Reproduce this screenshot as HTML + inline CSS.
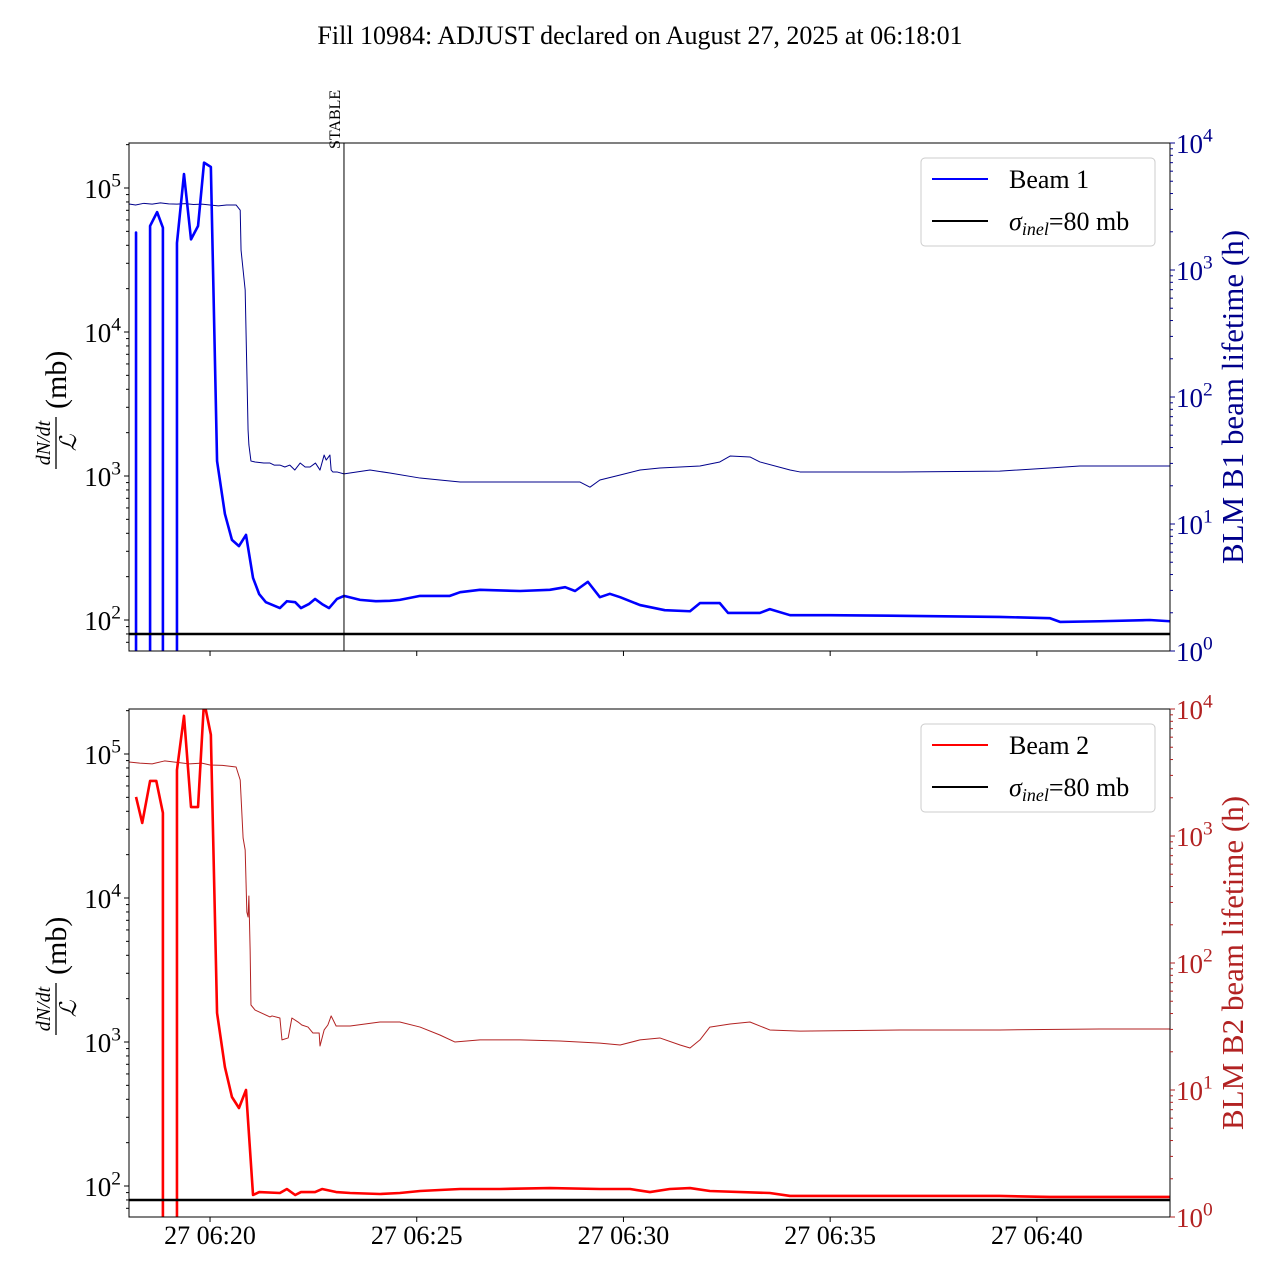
<!DOCTYPE html>
<html><head><meta charset="utf-8">
<style>
html,body{margin:0;padding:0;background:#fff;overflow:hidden;width:1280px;height:1280px;}
svg{display:block;font-family:"Liberation Serif","DejaVu Serif",serif;}
</style></head>
<body>
<svg id="fig" width="1280" height="1280" viewBox="0 0 1280 1280" xmlns="http://www.w3.org/2000/svg">
<text x="640" y="44" text-anchor="middle" font-size="26">Fill 10984: ADJUST declared on August 27, 2025 at 06:18:01</text>
</svg>
<script>
// time in minutes relative to 06:20:00
const xDomain = [-1.96, 23.22];
const xTicks = [0, 5, 10, 15, 20];
const xTickLabels = ["27 06:20", "27 06:25", "27 06:30", "27 06:35", "27 06:40"];
const leftTicks = [2, 3, 4, 5];
const rightTicks = [0, 1, 2, 3, 4];
const stableTime = 3.24;
const sigmaInel = 80;

const b1Time = [-1.96,-1.79,-1.62,-1.45,-1.28,-1.14,-0.97,-0.80,-0.63,-0.46,-0.29,-0.145,0.02,0.17,0.36,0.53,0.70,0.87,1.04,1.19,1.35,1.69,1.86,2.06,2.20,2.39,2.54,2.71,2.88,3.07,3.24,3.63,4.01,4.35,4.59,5.08,5.80,6.05,6.53,7.50,8.22,8.59,8.83,9.14,9.43,9.67,9.92,10.40,11.00,11.61,11.85,12.33,12.53,13.30,13.54,14.03,14.99,16.69,19.10,20.31,20.56,21.52,22.73,23.22];
const b1Value = [0,49000,0,54500,68000,53000,0,41500,125000,44000,54500,150000,140000,1270,545,360,326,390,196,151,133,121,135,133,121,129,140,129,121,140,147,138,135,136,138,147,147,156,162,159,162,169,159,184,144,152,144,127,117,115,131,131,112,112,119,108,108,107,105,103,97,98,100,98];

const blm1Time = [-1.96,-1.8,-1.6,-1.4,-1.2,-1.0,-0.8,-0.6,-0.4,-0.2,0,0.2,0.4,0.63,0.73,0.75,0.85,0.92,0.94,0.99,1.09,1.30,1.45,1.55,1.69,1.81,1.93,2.05,2.18,2.30,2.42,2.55,2.66,2.76,2.81,2.90,2.93,2.97,3.07,3.24,3.87,4.35,5.08,5.56,6.05,7.01,7.98,8.46,8.95,9.19,9.43,9.92,10.40,10.88,11.37,11.85,12.33,12.58,13.06,13.30,14.03,14.27,14.99,16.69,19.10,20.31,21.04,23.22];
const blm1Value = [3311,3250,3350,3300,3380,3320,3300,3330,3280,3300,3250,3200,3250,3250,2960,1436,696,55,42,31.3,30.8,30.2,30.2,29.1,29.1,28.1,29.1,26.6,30.2,28.1,28.1,30.2,26.6,34.9,31.9,34.9,26.6,25.7,25.7,24.8,26.6,25.2,23.0,22.2,21.4,21.4,21.4,21.4,21.4,19.5,22.2,24.3,26.6,27.6,28.1,28.6,30.8,34.3,33.7,30.8,26.6,25.7,25.7,25.7,26.1,27.6,28.6,28.6];

const b2Time = [-1.79,-1.64,-1.45,-1.30,-1.14,-0.97,-0.80,-0.63,-0.46,-0.29,-0.145,0.02,0.17,0.36,0.53,0.70,0.87,1.04,1.19,1.69,1.86,2.06,2.20,2.54,2.71,3.05,3.39,4.11,4.59,5.08,5.56,6.05,7.01,8.22,9.43,10.16,10.64,11.12,11.61,12.09,13.54,14.03,14.99,16.69,19.10,20.31,23.22];
const b2Value = [50300,33200,65000,65000,39000,0,77400,184000,42800,42800,233000,136000,1590,670,415,348,464,86.6,90.8,89.4,95.3,86.6,90.8,90.8,95.3,90.8,89.4,88,89.4,92.3,93.8,95.3,95.3,96.8,95.3,95.3,90.8,95.3,96.8,92.3,89.4,85.3,85.3,85.3,85.3,83.9,83.9];

const blm2Time = [-1.96,-1.7,-1.4,-1.1,-0.8,-0.5,-0.2,0,0.3,0.63,0.73,0.80,0.85,0.89,0.92,0.94,0.97,0.99,1.09,1.45,1.50,1.69,1.74,1.89,1.98,2.13,2.22,2.37,2.49,2.64,2.66,2.76,2.85,2.93,3.05,3.39,4.11,4.59,5.08,5.56,5.92,6.53,7.50,8.46,9.43,9.92,10.40,10.88,11.37,11.61,11.85,12.09,12.58,13.06,13.54,14.27,16.69,19.10,21.52,23.22];
const blm2Value = [3828,3750,3700,3900,3800,3700,3750,3620,3600,3494,2761,964,776,252,230,337,127,46.7,42.6,37.6,38.3,36.9,24.8,25.7,36.9,34.3,32.5,31.3,28.1,28.1,22.2,29.7,32.5,38.3,31.9,31.9,34.3,34.3,31.3,27.1,23.9,24.8,24.8,24.3,23.4,22.6,24.8,25.7,22.6,21.4,24.8,31.3,33.1,34.3,29.7,29.1,29.7,29.7,30.2,30.2];

const NS = "http://www.w3.org/2000/svg";
const svg = document.getElementById('fig');
const X0 = 129, X1 = 1170;
function xs(t){ return X0 + (t - xDomain[0]) / (xDomain[1] - xDomain[0]) * (X1 - X0); }
function mk(tag, attrs, parent){
  const e = document.createElementNS(NS, tag);
  for (const k in attrs) e.setAttribute(k, attrs[k]);
  (parent || svg).appendChild(e);
  return e;
}
function sup(parent, x, y, base, exp, size, color, anchor){
  const t = mk('text', {x:x, y:y, 'font-size':size, fill:color, 'text-anchor':anchor}, parent);
  const a = document.createElementNS(NS,'tspan'); a.textContent = base; t.appendChild(a);
  const b = document.createElementNS(NS,'tspan'); b.setAttribute('dy', -size*0.42); b.setAttribute('font-size', size*0.72); b.textContent = exp; t.appendChild(b);
  return t;
}

function panel(cfg){
  const top = cfg.top, bot = top + 508;
  const g = mk('g', {});
  
  
  const yl = v => (bot - 31) - (Math.log10(v) - 2) * 144;
  const yr = v => bot - Math.log10(v) * 127;
  const clipId = 'clip' + top;
  const cp = mk('clipPath', {id: clipId}, g);
  mk('rect', {x:X0, y:top, width:X1-X0, height:508}, cp);
  const plot = mk('g', {'clip-path':'url(#'+clipId+')'}, g);
  function path(times, vals, yf, color, w, name){
    let d = '', prevX = null, prevZero = false;
    times.forEach((t,i)=>{
      const v = vals[i], x = xs(t);
      if (v > 0){
        if (prevZero || prevX === null){
          if (prevZero) d += 'M' + x.toFixed(2) + ',' + (bot+3);
          d += (d ? 'L' : 'M') + x.toFixed(2) + ',' + yf(v).toFixed(2);
        } else {
          d += 'L' + x.toFixed(2) + ',' + yf(v).toFixed(2);
        }
        prevZero = false;
      } else {
        if (prevX !== null && !prevZero) d += 'L' + prevX.toFixed(2) + ',' + (bot+3);
        prevZero = true;
      }
      prevX = x;
    });
    const p = mk('path', {d:d, fill:'none', stroke:color, 'stroke-width':w, 'stroke-linejoin':'round'}, plot);
    
    
  }
  path(cfg.blmT, cfg.blmV, yr, cfg.blmColor, 1, cfg.blmName);
  path(cfg.bT, cfg.bV, yl, cfg.color, 2.6, cfg.beamName);
  const sl = mk('line', {x1:X0, x2:X1, y1:yl(sigmaInel), y2:yl(sigmaInel), stroke:'#000', 'stroke-width':2.5}, plot);
  
  
  if (cfg.stable){
    const s = mk('line', {x1:xs(stableTime), x2:xs(stableTime), y1:top, y2:bot, stroke:'#000', 'stroke-width':1}, g);
    
    
    const st = mk('text', {x:0, y:0, 'font-size':16, transform:'translate('+(xs(stableTime)-4)+','+(top+6)+') rotate(-90)'}, g);
    st.textContent = 'STABLE';
    
    
  }
  mk('rect', {x:X0, y:top, width:X1-X0, height:508, fill:'none', stroke:'#000', 'stroke-width':1}, g);
  xTicks.forEach((t,i)=>{
    mk('line', {x1:xs(t), x2:xs(t), y1:bot, y2:bot+5, stroke:'#000'}, g);
    if (cfg.xlabels){
      const tl = mk('text', {x:xs(t), y:bot+27, 'font-size':26, 'text-anchor':'middle'}, g);
      tl.textContent = xTickLabels[i];
      
      
    }
  });
  for (let e = 1; e <= 5; e++){
    for (let m = 1; m <= 9; m++){
      const v = m * Math.pow(10, e), y = yl(v);
      if (y < top || y > bot) continue;
      mk('line', {x1:X0-(m===1?5:3), x2:X0, y1:y, y2:y, stroke:'#000'}, g);
    }
  }
  leftTicks.forEach(e=>{
    const t = sup(g, 121, yl(Math.pow(10,e))+10, '10', String(e), 27, '#000', 'end');
    
    
  });
  for (let e = 0; e <= 4; e++){
    for (let m = 1; m <= 9; m++){
      const v = m * Math.pow(10, e), y = yr(v);
      if (y < top - 0.5 || y > bot + 0.5) continue;
      mk('line', {x1:X1, x2:X1+(m===1?5:3), y1:y, y2:y, stroke:cfg.blmColor}, g);
    }
  }
  rightTicks.forEach(e=>{
    const t = sup(g, 1176, yr(Math.pow(10,e))+10, '10', String(e), 27, cfg.blmColor, 'start');
    
    
  });
  const mid = top + 254;
  const yg = mk('g', {transform:'translate(62,'+mid+') rotate(-90)'}, g);
  
  
  const n = mk('text', {x:-46, y:-12, 'font-size':20, 'font-style':'italic', 'text-anchor':'middle'}, yg); n.textContent = 'dN/dt';
  mk('line', {x1:-72, x2:-20, y1:-6, y2:-6, stroke:'#000', 'stroke-width':1.3}, yg);
  const l = mk('text', {x:-46, y:14, 'font-size':23, 'font-style':'italic', 'text-anchor':'middle'}, yg); l.textContent = 'ℒ';
  const mb = mk('text', {x:-12, y:4, 'font-size':30}, yg); mb.textContent = '(mb)';
  const rl = mk('text', {x:0, y:0, 'font-size':31, fill:cfg.blmColor, 'text-anchor':'middle', transform:'translate(1243,'+mid+') rotate(-90)'}, g);
  rl.textContent = cfg.rightTitle;
  
  
  const lg = mk('g', {}, g);
  
  
  mk('rect', {x:921, y:top+15, width:234, height:88, rx:4, fill:'#fff', stroke:'#ccc', 'stroke-width':1}, lg);
  mk('line', {x1:932, x2:988, y1:top+36, y2:top+36, stroke:cfg.color, 'stroke-width':2}, lg);
  const t1 = mk('text', {x:1009, y:top+45, 'font-size':26}, lg); t1.textContent = cfg.beamLabel;
  mk('line', {x1:932, x2:988, y1:top+78, y2:top+78, stroke:'#000', 'stroke-width':2}, lg);
  const t2 = mk('text', {x:1009, y:top+87, 'font-size':26}, lg);
  const a = document.createElementNS(NS,'tspan'); a.setAttribute('font-style','italic'); a.textContent='σ'; t2.appendChild(a);
  const b = document.createElementNS(NS,'tspan'); b.setAttribute('font-style','italic'); b.setAttribute('font-size','18'); b.setAttribute('dy','5'); b.textContent='inel'; t2.appendChild(b);
  const c = document.createElementNS(NS,'tspan'); c.setAttribute('dy','-5'); c.textContent='=80 mb'; t2.appendChild(c);
}

panel({top:143, name:'beam1-panel', bT:b1Time, bV:b1Value, blmT:blm1Time, blmV:blm1Value, color:'#0000ff', blmColor:'#00008b', beamName:'beam1-line', blmName:'blm-b1-line', stable:true, xlabels:false, rightTitle:'BLM B1 beam lifetime (h)', beamLabel:'Beam 1'});
panel({top:709, name:'beam2-panel', bT:b2Time, bV:b2Value, blmT:blm2Time, blmV:blm2Value, color:'#ff0000', blmColor:'#b22222', beamName:'beam2-line', blmName:'blm-b2-line', stable:false, xlabels:true, rightTitle:'BLM B2 beam lifetime (h)', beamLabel:'Beam 2'});
</script>
</body></html>
